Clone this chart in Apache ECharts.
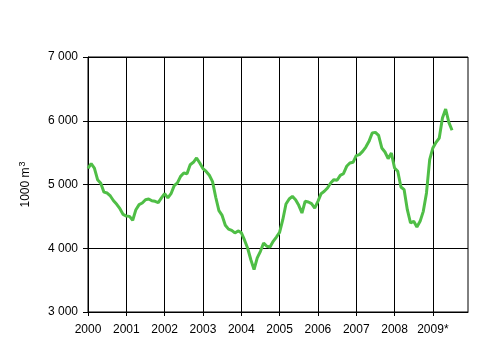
<!DOCTYPE html>
<html>
<head>
<meta charset="utf-8">
<script src="https://cdn.jsdelivr.net/npm/echarts@6/dist/echarts.min.js"></script>
<style>
  html, body { margin: 0; padding: 0; background: #fff; }
  #chart { width: 501px; height: 348px; }
</style>
</head>
<body>
<div id="chart"></div>
<script>
// year labels under the x axis, one every 12 months
const years = ['2000', '2001', '2002', '2003', '2004', '2005', '2006', '2007', '2008', '2009*'];

// monthly values, 1000 m3
const v2000 = [5254, 5326, 5258, 5075, 5020, 4880, 4866, 4820, 4745, 4690, 4620, 4530];
const v2001 = [4505, 4500, 4440, 4605, 4684, 4710, 4762, 4773, 4745, 4736, 4715, 4790];
const v2002 = [4856, 4790, 4856, 4982, 5024, 5128, 5180, 5170, 5311, 5348, 5416, 5337];
const v2003 = [5250, 5205, 5145, 5045, 4800, 4590, 4515, 4360, 4300, 4280, 4240, 4272];
const v2004 = [4245, 4130, 4000, 3820, 3665, 3850, 3952, 4082, 4031, 4020, 4109, 4176];
const v2005 = [4250, 4448, 4694, 4773, 4814, 4762, 4673, 4553, 4736, 4726, 4699, 4631];
const v2006 = [4736, 4856, 4893, 4945, 5024, 5076, 5066, 5144, 5170, 5285, 5337, 5348];
const v2007 = [5452, 5468, 5520, 5588, 5677, 5808, 5818, 5771, 5573, 5510, 5405, 5494];
const v2008 = [5259, 5207, 4961, 4919, 4605, 4396, 4422, 4333, 4422, 4579, 4867, 5390];
const v2009 = [5573, 5661, 5729, 6043, 6184, 5975, 5850];

const values = [].concat(v2000, v2001, v2002, v2003, v2004, v2005, v2006, v2007, v2008, v2009);

// 120 month slots, 2000-01 .. 2009-12
const months = [];
for (let y = 2000; y <= 2009; y++) {
    for (let m = 1; m <= 12; m++) {
        months.push(y + '-' + (m < 10 ? '0' + m : m));
    }
}

const yearStart = (i) => i % 12 === 0;
const font = 'Liberation Sans, Arial, sans-serif';

let myChart = echarts.init(document.getElementById('chart'));
const options = {
    animation: false,
    grid: {
        left: 88, top: 57, right: 33, bottom: 36,
        show: true, borderColor: '#000', borderWidth: 1
    },
    xAxis: {
        type: 'category',
        data: months,
        boundaryGap: false,
        axisLine: { lineStyle: { color: '#000', width: 1 } },
        axisTick: { interval: yearStart, length: 4, lineStyle: { color: '#000' } },
        axisLabel: {
            interval: yearStart,
            margin: 12,
            color: '#000',
            fontFamily: font,
            fontSize: 12,
            formatter: (val, idx) => years[idx / 12]
        },
        splitLine: { show: true, interval: yearStart, lineStyle: { color: '#000', width: 1 } }
    },
    yAxis: {
        type: 'value',
        min: 3000,
        max: 7000,
        interval: 1000,
        name: '1000 m{sup|3}',
        nameLocation: 'middle',
        nameGap: 55,
        nameTextStyle: {
            color: '#000', fontFamily: font, fontSize: 12,
            rich: {
                sup: { fontSize: 9, fontFamily: font, color: '#000', verticalAlign: 'top', padding: [0, 0, 6, 1] }
            }
        },
        axisLine: { show: true, lineStyle: { color: '#000', width: 1 } },
        axisTick: { show: true, length: 5, lineStyle: { color: '#000' } },
        axisLabel: {
            margin: 10,
            color: '#000',
            fontFamily: font,
            fontSize: 12,
            formatter: (v) => String(v).replace(/\B(?=(\d{3})+$)/g, ' ')
        },
        splitLine: { show: true, lineStyle: { color: '#000', width: 1 } }
    },
    series: [
        {
            type: 'line',
            data: values,
            symbol: 'none',
            lineStyle: { color: '#4fbe46', width: 3 }
        }
    ]
};
myChart.setOption(options);
</script>
</body>
</html>
